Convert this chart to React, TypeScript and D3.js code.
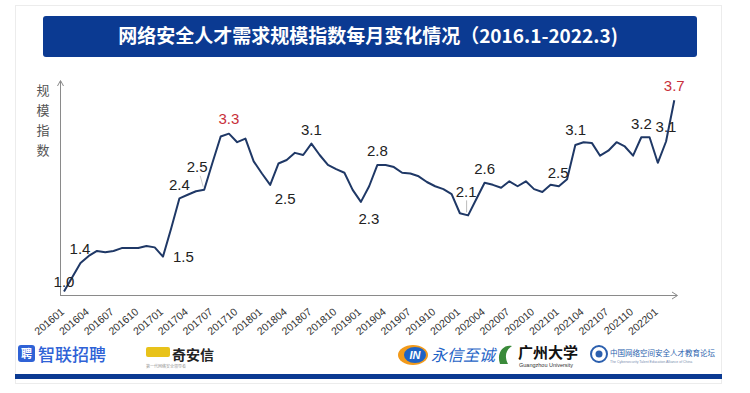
import React from "react";
import * as d3 from "d3";

const months: string[] = [];
for (let y = 2016; y <= 2022; y++) {
  for (let m = 1; m <= 12; m++) {
    if (y === 2022 && m > 3) break;
    months.push(`${y}${String(m).padStart(2, "0")}`);
  }
}

const values: number[] = [
  1.0, 1.2, 1.4, 1.5, 1.57, 1.55, 1.57, 1.61, 1.61, 1.61, 1.64, 1.62,
  1.49, 1.89, 2.31, 2.36, 2.41, 2.43, 2.81, 3.18, 3.22, 3.1, 3.15, 2.83,
  2.66, 2.5, 2.8, 2.85, 2.95, 2.92, 3.08, 2.92, 2.78, 2.72, 2.67, 2.43,
  2.26, 2.48, 2.78, 2.78, 2.75, 2.67, 2.66, 2.62, 2.54, 2.48, 2.44, 2.37,
  2.1, 2.07, 2.3, 2.53, 2.5, 2.46, 2.55, 2.48, 2.55, 2.44, 2.4, 2.5,
  2.48, 2.58, 3.06, 3.1, 3.09, 2.91, 2.98, 3.1, 3.04, 2.91, 3.17, 3.17,
  2.81, 3.11, 3.69,
];

const labelIndex: number[] = [0, 2, 12, 14, 17, 20, 25, 30, 36, 38, 49, 51, 61, 63, 70, 73, 74];
const labelText: string[] = ["1.0", "1.4", "1.5", "2.4", "2.5", "3.3", "2.5", "3.1", "2.3", "2.8", "2.1", "2.6", "2.5", "3.1", "3.2", "3.1", "3.7"];
const labelHighlight: boolean[] = [false, false, false, false, false, true, false, false, false, false, false, false, false, false, false, false, true];
// placement offsets (style): [dx, dy, anchor]
const labelPlace: [number, number, string][] = [
  [0, -4, "middle"], [-0.5, -9, "middle"], [10, 5, "start"], [0, -8, "middle"],
  [-7, -18, "middle"], [0, -10, "middle"], [15, 19, "middle"], [0, -9, "middle"],
  [8, 22, "middle"], [0, -9, "middle"], [-2, -18, "middle"], [0, -9, "middle"],
  [-9, -1, "middle"], [-8, -7, "middle"], [0, -8, "middle"], [0, -9, "middle"], [0, -9, "middle"],
];

const yAxisTitle = ["规", "模", "指", "数"];
const title = "网络安全人才需求规模指数每月变化情况（2016.1-2022.3)";

export default function App() {
  const W = 750, H = 393;
  const x = d3.scaleLinear().domain([0, values.length - 1]).range([64, 674.3]);
  const y = d3.scaleLinear().domain([0.95, 3.75]).range([295, 96]);
  const line = d3.line<number>().x((_, i) => x(i)).y((d) => y(d));
  const tickIdx = d3.range(0, values.length, 3);
  const font = "'Liberation Sans', Arial, sans-serif";
  const cjk = "'Noto Sans CJK SC', sans-serif";

  return (
    <svg width={W} height={H} style={{ position: "absolute", left: 0, top: 0, background: "#fff" }}>
      <rect x={15.5} y={5.5} width={706} height={378} fill="#fff" stroke="#ececec" />
      {/* title */}
      <rect x={43} y={16} width={654} height={41} rx={3} fill="#0b3a92" />
      <text x={368} y={43} textAnchor="middle" fill="#fff" fontFamily={cjk} fontWeight={700} fontSize={19}>
        {title}
      </text>

      {/* axes */}
      <line x1={60} y1={295.5} x2={677} y2={295.5} stroke="#8a8a8a" strokeWidth={1} />
      <path d="M672,292 L677.5,295.5 L672,299" fill="none" stroke="#8a8a8a" strokeWidth={1} />
      <line x1={60.5} y1={295.5} x2={60.5} y2={81} stroke="#8a8a8a" strokeWidth={1} />
      <path d="M57.5,86 L60.5,80.5 L63.5,86" fill="none" stroke="#8a8a8a" strokeWidth={1} />

      {yAxisTitle.map((c, i) => (
        <text key={c} x={43} y={95 + i * 20} textAnchor="middle" fill="#555" fontFamily={cjk} fontSize={13}>
          {c}
        </text>
      ))}

      {tickIdx.map((i) => (
        <text
          key={i}
          transform={`translate(${x(i) + 1},${313}) rotate(-40)`}
          textAnchor="end"
          fill="#333"
          fontFamily={font}
          fontSize={10.5}
        >
          {months[i]}
        </text>
      ))}

      {/* leader lines */}
      <line x1={x(17) - 4} y1={y(values[17]) - 14} x2={x(17) - 1} y2={y(values[17]) - 3} stroke="#ccc" strokeWidth={1} />
      <line x1={x(49) - 1.5} y1={y(values[49]) - 15} x2={x(49) - 1.5} y2={y(values[49]) - 3} stroke="#bbb" strokeWidth={1} />

      <path d={line(values) || ""} fill="none" stroke="#1f3866" strokeWidth={2} strokeLinejoin="round" />

      {labelIndex.map((idx, k) => {
        const [dx, dy, anchor] = labelPlace[k];
        return (
          <text
            key={k}
            x={x(idx) + dx}
            y={y(values[idx]) + dy}
            textAnchor={anchor as any}
            fill={labelHighlight[k] ? "#c8303a" : "#222"}
            fontFamily={font}
            fontSize={15}
          >
            {labelText[k]}
          </text>
        );
      })}

      {/* footer logos */}
      <g>
        <rect x={18} y={345} width={17} height={17} rx={3} fill="#2f62d6" />
        <text x={26.5} y={358} textAnchor="middle" fill="#fff" fontFamily={cjk} fontWeight={700} fontSize={11}>聘</text>
        <text x={38} y={361} fill="#2f62d6" fontFamily={cjk} fontWeight={500} fontSize={17}>智联招聘</text>

        <rect x={146} y={347} width={24} height={10} rx={2} fill="#e8c21a" />
        <text x={172} y={360} fill="#222" fontFamily={cjk} fontWeight={700} fontSize={14}>奇安信</text>
        <text x={146} y={368} fill="#999" fontFamily={cjk} fontSize={4}>第一代网络安全领导者</text>

        <ellipse cx={413} cy={355} rx={15} ry={10} fill="#f29a1a" />
        <ellipse cx={415} cy={355} rx={11} ry={8} fill="#1e63c6" />
        <text x={415} y={359} textAnchor="middle" fill="#fff" fontFamily={font} fontWeight={700} fontStyle="italic" fontSize={11}>IN</text>
        <text x={431} y={361} fill="#1e63c6" fontFamily={cjk} fontStyle="italic" fontSize={16}>永信至诚</text>

        <path d="M500,364 C496,352 504,344 512,346 C506,350 504,356 508,364 Z" fill="#3a8a3a" />
        <text x={518} y={358} fill="#111" fontFamily={cjk} fontWeight={700} fontSize={15}>广州大学</text>
        <text x={519} y={367} fill="#333" fontFamily={font} fontSize={5.5}>Guangzhou University</text>

        <circle cx={599} cy={354} r={8} fill="none" stroke="#2b5fae" strokeWidth={2} />
        <circle cx={599} cy={354} r={3.5} fill="#2b5fae" />
        <text x={610} y={356} fill="#2b5fae" fontFamily={cjk} fontSize={7.5}>中国网络空间安全人才教育论坛</text>
        <text x={610} y={363} fill="#7a8fb0" fontFamily={font} fontSize={3.5}>The Cybersecurity Talent Education Alliance of China</text>
      </g>
      <rect x={15} y={374} width={707} height={5} fill="#0b3a92" />
    </svg>
  );
}
